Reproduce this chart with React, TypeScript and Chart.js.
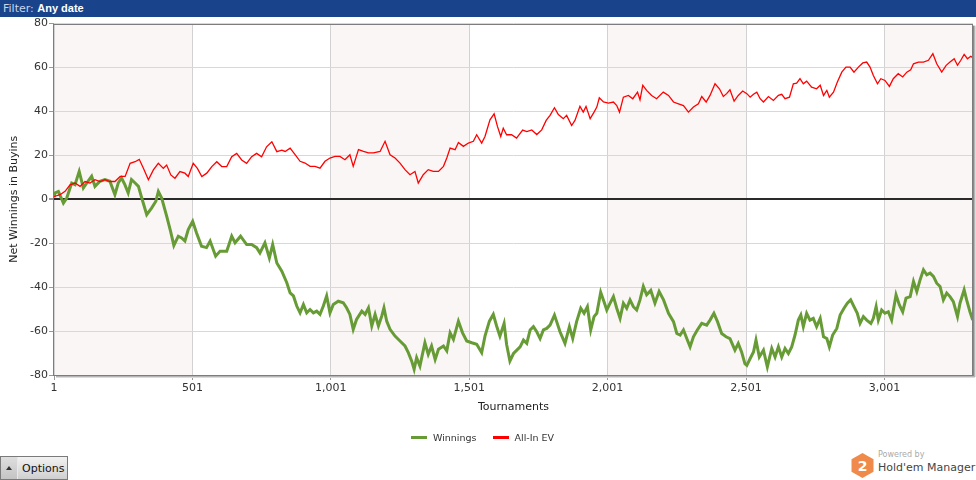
import React, { useEffect, useRef } from "react";
import { Chart, registerables } from "chart.js";

Chart.register(...registerables);

const xTickValues = [1, 501, 1001, 1501, 2001, 2501, 3001];
const yTickValues = [-80, -60, -40, -20, 0, 20, 40, 60, 80];
const xMax = 3321;

const seriesNames = ["Winnings", "All-In EV"];

const winTournaments = [1,5,17,35,47,65,77,92,107,119,137,149,167,185,203,221,233,245,257,269,281,294,306,318,336,354,369,378,390,408,422,434,450,462,474,486,502,516,534,552,565,585,601,625,643,655,675,697,715,733,745,763,779,791,806,824,842,854,866,878,890,902,914,926,938,950,962,974,986,998,1010,1028,1046,1058,1070,1082,1094,1113,1125,1137,1149,1161,1173,1185,1193,1203,1215,1233,1251,1269,1281,1293,1302,1311,1323,1341,1353,1365,1378,1390,1408,1420,1432,1444,1462,1477,1492,1510,1528,1546,1558,1574,1588,1600,1612,1627,1636,1648,1661,1673,1685,1697,1709,1721,1733,1745,1757,1769,1781,1793,1809,1817,1829,1847,1863,1875,1889,1904,1916,1928,1940,1952,1962,1976,1988,1998,2010,2022,2034,2046,2058,2070,2082,2094,2106,2118,2130,2142,2157,2172,2187,2203,2221,2239,2251,2263,2275,2287,2299,2311,2325,2341,2359,2371,2385,2398,2413,2429,2443,2461,2473,2485,2497,2504,2516,2528,2537,2549,2564,2578,2594,2606,2618,2630,2642,2654,2666,2678,2690,2699,2708,2720,2732,2744,2756,2769,2781,2793,2802,2814,2829,2841,2855,2867,2879,2891,2903,2913,2925,2937,2952,2961,2971,2979,2991,3003,3015,3027,3043,3055,3067,3079,3094,3106,3118,3130,3142,3154,3166,3178,3190,3202,3214,3226,3238,3250,3265,3274,3289,3298,3310,3320];
const winValues = [1,2.9,3.6,-1.7,0.6,7.4,6.7,12.7,5.2,7.4,10.5,5.9,8.2,9,8.2,2.1,7.4,9.7,6.7,2.9,9,7.4,5.9,0.6,-7,-3.9,-0.9,3.6,0.6,-7.7,-14.5,-21,-16.8,-17.6,-19,-13.8,-10,-15.3,-21.4,-22,-19,-25.9,-23.6,-23.6,-16.8,-19.8,-16.8,-20.6,-20.6,-22,-24.4,-19.8,-26.7,-20.6,-29,-32.7,-38,-42.6,-44,-48.6,-51.7,-47.9,-51.7,-50.2,-51.7,-50.9,-52.4,-48.6,-44,-51.7,-47.9,-46.4,-47.1,-49.4,-52.4,-59.2,-54.7,-50.9,-52.4,-49.4,-57.7,-52.4,-57.7,-53.2,-49.4,-55.5,-59.2,-62.3,-64.5,-66.8,-69.8,-73.6,-77.4,-72.1,-75.9,-65.3,-70.6,-66.8,-72.9,-68.3,-66.8,-69,-60.8,-63.8,-55.5,-60.8,-64.5,-65.3,-66,-69.8,-62.3,-55.5,-52.4,-57.7,-62.3,-56.5,-66,-73.6,-70.2,-68.7,-67.2,-64.1,-65.6,-59.5,-58,-60.3,-63.4,-59.5,-58.8,-57.3,-52.7,-55.7,-60.3,-65.6,-58,-63.4,-55.7,-49.6,-51.9,-48.9,-59.5,-53.4,-51.9,-42.3,-46.6,-50.4,-47.3,-44.3,-49.6,-54.2,-47.3,-49.6,-45.8,-48.9,-50.4,-45.8,-39.7,-43.5,-41.5,-47.3,-42,-45.8,-51.9,-55.7,-61.1,-61.8,-59.5,-63.4,-67.2,-62.6,-59.5,-56.5,-57.3,-55,-51.9,-55.7,-61.1,-62.6,-63.4,-68.7,-65.6,-69.5,-74.8,-75.6,-72.5,-69.5,-64.1,-71.8,-68.7,-76.3,-67.9,-71.8,-67.2,-71.8,-67.9,-70.2,-67.2,-61.8,-55,-52.7,-58,-51.9,-55,-54.2,-58,-54.2,-62.6,-63.4,-67.2,-61.8,-58.8,-52.7,-49.6,-47.3,-45.8,-48.9,-51.9,-56.5,-53.4,-55,-56.5,-54.2,-48.9,-55,-50.4,-51.9,-51.2,-55,-43.5,-48.1,-51.2,-45,-44.3,-37.4,-42,-36.6,-32.1,-34.4,-33.6,-35.1,-38.2,-39.7,-45.8,-42.7,-44.3,-46.6,-53.4,-47.3,-41.2,-45.8,-51.2,-55];

const evTournaments = [1,5,23,41,59,77,95,113,131,149,167,185,203,221,240,258,276,294,309,324,342,360,378,396,408,423,438,456,474,486,504,519,535,553,571,589,607,625,643,661,679,697,715,733,751,769,788,806,824,836,854,872,890,908,926,944,962,980,998,1016,1034,1052,1070,1082,1101,1119,1137,1155,1179,1197,1215,1233,1251,1269,1287,1305,1317,1335,1353,1371,1390,1408,1420,1432,1450,1462,1480,1498,1516,1528,1546,1558,1576,1591,1603,1615,1624,1636,1654,1672,1694,1709,1727,1745,1763,1779,1793,1809,1823,1841,1853,1871,1883,1901,1913,1923,1938,1952,1962,1971,1986,2004,2022,2034,2044,2058,2076,2092,2109,2118,2128,2142,2160,2178,2202,2221,2239,2257,2275,2293,2311,2329,2341,2357,2371,2389,2405,2419,2431,2443,2458,2473,2489,2504,2516,2528,2540,2552,2564,2582,2600,2618,2630,2642,2658,2672,2684,2696,2708,2720,2738,2756,2769,2781,2793,2802,2817,2831,2847,2862,2877,2891,2907,2923,2937,2949,2961,2976,2988,3003,3019,3033,3051,3067,3082,3096,3106,3124,3142,3160,3176,3190,3208,3224,3238,3253,3265,3277,3289,3301,3313,3320];
const evValues = [1,1.4,2.1,3.6,6.6,7.4,5.9,8.1,7.4,8.9,8.1,8.9,8.1,8.1,10.4,10.4,16.4,17.1,18.2,14.1,8.9,13.4,16.4,14.1,15.6,11.1,9.6,12.6,11.9,10.4,16.4,14.1,10.4,11.9,14.9,17.1,14.9,14.9,19.4,20.9,17.9,16.4,19.4,20.9,19.4,23.9,26.2,21.7,22.4,21.8,23.3,20.3,17.3,16.5,15,15,14.2,17.3,18.8,19.5,19.5,18,20.3,15,22.6,21.8,21.1,21.1,21.8,26.4,20.3,18.8,16.5,13.5,11.2,12.7,7.4,11.2,13.5,12.7,12.7,15,18.8,23.3,22.6,25.9,24.1,25.6,26.4,29.4,25.6,28.6,36.2,38.9,33.2,28.6,32.4,29.4,29.4,27.9,31.5,30.8,31.6,29.5,31.6,35.9,38.2,41.7,38.6,36.7,38.2,33.6,35.9,42.3,39.7,42.3,36.7,39.7,42,46.2,44.3,43.8,44.3,42.7,39.7,46.5,47.3,45.8,48.8,45.3,51.9,49.6,47.3,45.8,48.8,47.3,44.3,43.5,42.7,39.7,42,43.5,46.8,44.3,47.3,52.6,50.3,46.8,48.1,49.9,44.7,47.3,49.3,48.1,46.5,47.8,48.8,45.8,44.3,46.8,45,47.3,47.8,45.8,46.5,52.6,52.9,54.9,52.6,53.8,51.1,50.3,51.9,47.3,49.6,46.5,48.8,53.4,57.9,60.2,60.2,57.9,60.2,62.1,62.5,60.2,56.4,52.6,54.9,54.1,51.4,54.9,57.2,55.7,57.9,59,61.7,62.5,62.5,63.3,66.3,61.7,57.9,61,62.5,64,61,63.3,66,64,65.1,64.5];

const GREEN = "#679b35";
const RED = "#ff0000";
const FONT = "'DejaVu Sans', sans-serif";

const toPoints = (xs: number[], ys: number[]) => xs.map((x, i) => ({ x, y: ys[i] }));

const plotDecor = {
  id: "plotDecor",
  beforeDraw(chart: any) {
    const { ctx, chartArea: a, scales } = chart;
    const x = scales.x;
    ctx.save();
    ctx.fillStyle = "#fbf6f6";
    for (let i = 0; i < xTickValues.length; i += 2) {
      const s = x.getPixelForValue(xTickValues[i]);
      const e = i + 1 < xTickValues.length ? x.getPixelForValue(xTickValues[i + 1]) : a.right;
      ctx.fillRect(s, a.top, Math.min(e, a.right) - s, a.bottom - a.top);
    }
    ctx.restore();
  },
  afterDraw(chart: any) {
    const { ctx, chartArea: a } = chart;
    ctx.save();
    const shades = ["#8a8a8a", "#b5b5b5", "#dcdcdc"];
    shades.forEach((c, i) => {
      ctx.fillStyle = c;
      ctx.fillRect(a.left + 2, a.bottom + i, a.right - a.left, 1);
      ctx.fillRect(a.right + i, a.top + 2, 1, a.bottom - a.top);
    });
    ctx.strokeStyle = "#7d7d7d";
    ctx.lineWidth = 1;
    ctx.strokeRect(Math.round(a.left) - 0.5, Math.round(a.top) + 0.5, Math.round(a.right - a.left), Math.round(a.bottom - a.top));
    ctx.restore();
  },
};

function ChartCanvas() {
  const ref = useRef<HTMLCanvasElement | null>(null);
  useEffect(() => {
    if (!ref.current) return;
    const chart = new Chart(ref.current, {
      type: "line",
      data: {
        datasets: [
          {
            label: seriesNames[0],
            data: toPoints(winTournaments, winValues),
            borderColor: GREEN,
            backgroundColor: GREEN,
            borderWidth: 3,
            pointRadius: 0,
            tension: 0,
            order: 1,
          },
          {
            label: seriesNames[1],
            data: toPoints(evTournaments, evValues),
            borderColor: RED,
            backgroundColor: RED,
            borderWidth: 1.3,
            pointRadius: 0,
            tension: 0,
            order: 0,
          },
        ],
      },
      options: {
        animation: false,
        responsive: false,
        devicePixelRatio: 1,
        layout: { padding: { left: 0, right: 3, top: 0, bottom: 26 } },
        plugins: { legend: { display: false }, tooltip: { enabled: false } },
        scales: {
          x: {
            type: "linear",
            min: 1,
            max: xMax,
            afterBuildTicks: (s: any) => {
              s.ticks = xTickValues.map((v) => ({ value: v }));
            },
            afterFit: (s: any) => {
              s.height = 39;
            },
            border: { display: false },
            grid: { color: "#d2d2d2", lineWidth: 1, tickLength: 5, tickColor: "#999" },
            ticks: {
              color: "#333",
              font: { family: FONT, size: 11 },
              padding: 2,
              maxRotation: 0,
              callback: (v: any) => Number(v).toLocaleString("en-US"),
            },
            title: {
              display: true,
              text: "Tournaments",
              color: "#222",
              font: { family: FONT, size: 11 },
              padding: { top: 4, bottom: 0 },
            },
          },
          y: {
            min: -80,
            max: 80,
            afterBuildTicks: (s: any) => {
              s.ticks = yTickValues.map((v) => ({ value: v }));
            },
            afterFit: (s: any) => {
              s.width = 54;
            },
            border: { display: false },
            grid: {
              color: (c: any) => (c.tick && c.tick.value === 0 ? "#2a2a2a" : "#d8d8d8"),
              lineWidth: (c: any) => (c.tick && c.tick.value === 0 ? 2 : 1),
              tickLength: 5,
              tickColor: "#999",
            },
            ticks: { color: "#333", font: { family: FONT, size: 11 }, padding: 1 },
            title: {
              display: true,
              text: "Net Winnings in Buyins",
              color: "#222",
              font: { family: FONT, size: 11 },
              padding: { top: 8, bottom: 0 },
            },
          },
        },
      },
      plugins: [plotDecor],
    });
    return () => chart.destroy();
  }, []);
  return (
    <canvas
      ref={ref}
      width={976}
      height={424}
      style={{ position: "absolute", left: 0, top: 16, width: 976, height: 424 }}
    />
  );
}

export default function App() {
  useEffect(() => {
    document.body.style.margin = "0";
  }, []);
  return (
    <div style={{ position: "relative", width: 976, height: 480, background: "#fff", overflow: "hidden", fontFamily: FONT }}>
      <div
        style={{
          position: "absolute", left: 0, top: 0, width: 976, height: 17, background: "#19438b",
          color: "#c9d5ea", fontSize: 11, lineHeight: "16px", paddingLeft: 3, boxSizing: "border-box", whiteSpace: "nowrap",
        }}
      >
        Filter:{" "}
        <span style={{ color: "#fff", fontWeight: "bold", fontFamily: "'Liberation Sans', sans-serif", fontSize: 11 }}>Any date</span>
      </div>
      <ChartCanvas />
      <div style={{ position: "absolute", top: 430, left: 411, height: 14, display: "flex", alignItems: "center", fontSize: 9.5, color: "#333", whiteSpace: "nowrap" }}>
        <span style={{ display: "inline-block", width: 16, height: 3, background: GREEN, marginRight: 6 }} />
        <span style={{ marginRight: 16 }}>{seriesNames[0]}</span>
        <span style={{ display: "inline-block", width: 16, height: 3, background: RED, marginRight: 6 }} />
        <span>{seriesNames[1]}</span>
      </div>
      <div
        style={{
          position: "absolute", left: 0, top: 456, width: 68, height: 24, boxSizing: "border-box",
          border: "1px solid #7a7a7a", background: "linear-gradient(#f2f2f2, #cfcfcf)", display: "flex", alignItems: "center",
        }}
      >
        <div style={{ width: 16, height: "100%", borderRight: "1px solid #e8e8e8", background: "linear-gradient(#dedede, #c4c4c4)", position: "relative" }}>
          <div style={{ position: "absolute", left: 5, top: 9, width: 0, height: 0, borderLeft: "3px solid transparent", borderRight: "3px solid transparent", borderBottom: "4px solid #333" }} />
        </div>
        <span style={{ fontSize: 11, color: "#111", marginLeft: 4 }}>Options</span>
      </div>
      <div style={{ position: "absolute", left: 851, top: 453 }}>
        <svg width="23" height="25" viewBox="0 0 23 25">
          <polygon points="11.5,0 22.5,6.25 22.5,18.75 11.5,25 0.5,18.75 0.5,6.25" fill="#f08a4b" />
          <text x="11.5" y="18" textAnchor="middle" fontFamily={FONT} fontWeight="bold" fontSize="14" fill="#fff">2</text>
        </svg>
      </div>
      <div style={{ position: "absolute", left: 878, top: 450, fontSize: 8, color: "#aaa" }}>Powered by</div>
      <div style={{ position: "absolute", left: 878, top: 461, fontSize: 11, color: "#444", whiteSpace: "nowrap" }}>Hold'em Manager</div>
    </div>
  );
}
